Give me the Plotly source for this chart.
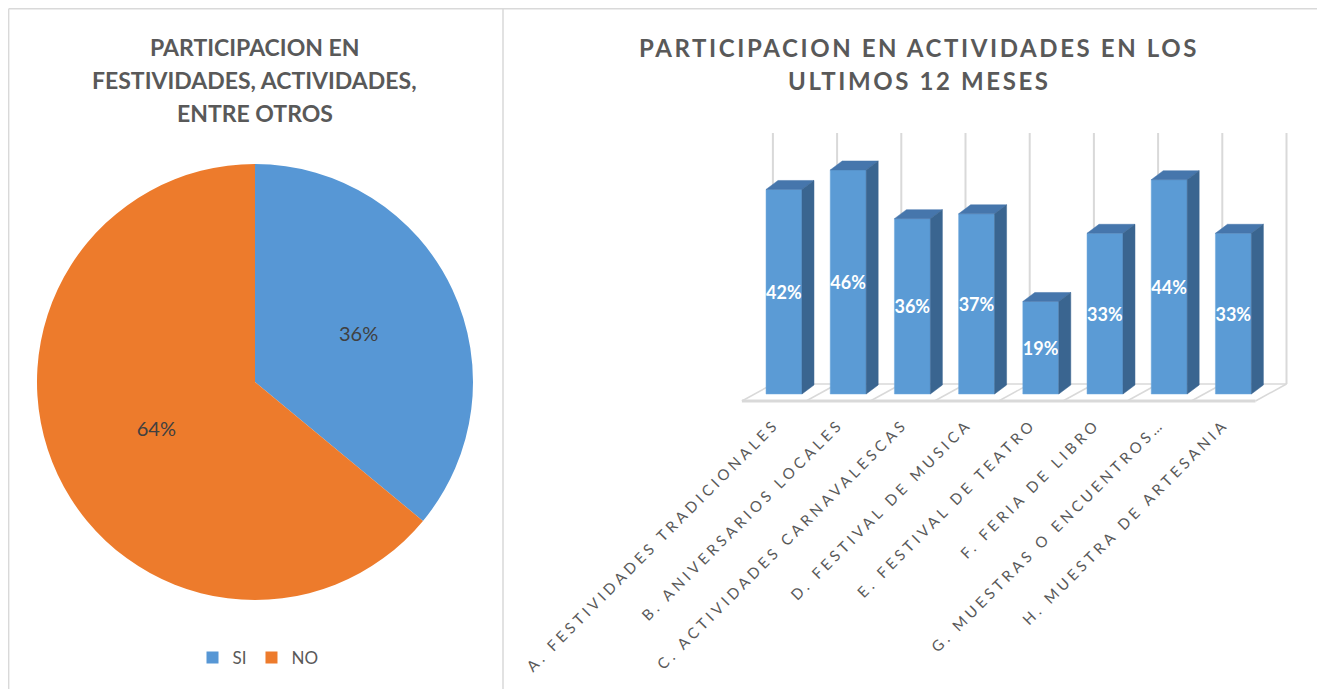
import plotly.graph_objects as go

# ---------------- data ----------------
pie_labels = ["SI", "NO"]
pie_values = [36, 64]

categories = [
    "A. FESTIVIDADES TRADICIONALES",
    "B. ANIVERSARIOS LOCALES",
    "C. ACTIVIDADES CARNAVALESCAS",
    "D. FESTIVAL DE MUSICA",
    "E. FESTIVAL DE TEATRO",
    "F. FERIA DE LIBRO",
    "G. MUESTRAS O ENCUENTROS…",
    "H. MUESTRA DE ARTESANIA",
]
bar_values = [42, 46, 36, 37, 19, 33, 44, 33]

pie_title = ["PARTICIPACION EN", "FESTIVIDADES, ACTIVIDADES,", "ENTRE OTROS"]
bar_title = ["PARTICIPACION EN ACTIVIDADES EN LOS", "ULTIMOS 12 MESES"]

# ---------------- styling / layout constants ----------------
OFF = 8                      # page body margin
W, H = 1325 - OFF, 689 - OFF
GRAY_TXT = "#595959"
BORDER = "#D9D9D9"
FONT = "Lato"


def px_x(p):
    return (p - OFF) / W


def px_y(p):
    return 1 - (p - OFF) / H


# bar subplot geometry (screen pixels)
X0_PX = 784.0        # pixel x of first category center
STEP_PX = 64.2       # pixels per category
Y0_PX = 394.0        # pixel y of value 0
PX_PER_UNIT = 4.87   # pixels per percent
x_range = [-1.5, 8.0]
y_range = [-3, 55]
xd = [px_x(X0_PX + x_range[0] * STEP_PX), px_x(X0_PX + x_range[1] * STEP_PX)]
yd = [px_y(Y0_PX - y_range[0] * PX_PER_UNIT), px_y(Y0_PX - y_range[1] * PX_PER_UNIT)]

bar_w = 0.56
dx = 12 / STEP_PX        # depth offset of bar (x units)
dy = 9 / PX_PER_UNIT     # depth offset of bar (y units)
floor_front_dx = -10 / STEP_PX
floor_back_dx = 21 / STEP_PX
floor_front_y = (Y0_PX - 401) / PX_PER_UNIT
floor_back_y = (Y0_PX - 384) / PX_PER_UNIT
grid_top_y = (Y0_PX - 133) / PX_PER_UNIT

FRONT = "#5B9BD5"
TOP = "#4676AC"
SIDE = "#3A6590"

fig = go.Figure()

# ---------------- pie ----------------
cx, cy, R = 255, 382, 218
fig.add_trace(go.Pie(
    labels=pie_labels,
    values=pie_values,
    sort=False,
    direction="clockwise",
    rotation=0,
    marker=dict(colors=["#5797D5", "#ED7B2C"], line=dict(width=0)),
    textinfo="percent",
    texttemplate="%{percent:.0%}",
    textposition="inside",
    insidetextorientation="horizontal",
    textfont=dict(family=FONT, size=20, color="#404040"),
    domain=dict(x=[px_x(cx - R), px_x(cx + R)], y=[px_y(cy + R), px_y(cy - R)]),
    showlegend=True,
    hoverinfo="label+percent",
))

# ---------------- bars ----------------
xs = list(range(len(categories)))
fig.add_trace(go.Bar(
    x=xs,
    y=bar_values,
    width=bar_w,
    marker=dict(color=FRONT, line=dict(color="#6FA8DC", width=0.5)),
    text=[f"{v}%" for v in bar_values],
    textposition="inside",
    insidetextanchor="middle",
    constraintext="none",
    textangle=0,
    textfont=dict(family=FONT, size=18, color="white", weight="bold"),
    showlegend=False,
    xaxis="x",
    yaxis="y",
    hovertemplate="%{customdata}: %{y}%<extra></extra>",
    customdata=categories,
))

shapes = []
# floor and back-wall gridlines (below bars)
bounds = [i - 0.5 for i in range(len(categories) + 1)]
shapes.append(dict(type="line", xref="x", yref="y", layer="below",
                   x0=bounds[0] + floor_front_dx, x1=bounds[-1] + floor_front_dx,
                   y0=floor_front_y, y1=floor_front_y, line=dict(color=BORDER, width=3)))
shapes.append(dict(type="line", xref="x", yref="y", layer="below",
                   x0=bounds[0] + floor_back_dx, x1=bounds[-1] + floor_back_dx,
                   y0=floor_back_y, y1=floor_back_y, line=dict(color=BORDER, width=1.5)))
for b in bounds:
    shapes.append(dict(type="line", xref="x", yref="y", layer="below",
                       x0=b + floor_front_dx, x1=b + floor_back_dx,
                       y0=floor_front_y, y1=floor_back_y, line=dict(color=BORDER, width=1.5)))
    shapes.append(dict(type="line", xref="x", yref="y", layer="below",
                       x0=b + floor_back_dx, x1=b + floor_back_dx,
                       y0=floor_back_y, y1=grid_top_y, line=dict(color=BORDER, width=2)))

# 3D faces of bars computed from the data
for x, v in zip(xs, bar_values):
    l, r = x - bar_w / 2, x + bar_w / 2
    top = f"M{l},{v} L{l+dx},{v+dy} L{r+dx},{v+dy} L{r},{v} Z"
    side = f"M{r},0 L{r},{v} L{r+dx},{v+dy} L{r+dx},{dy} Z"
    shapes.append(dict(type="path", xref="x", yref="y", path=top,
                       fillcolor=TOP, line=dict(color=TOP, width=0.5)))
    shapes.append(dict(type="path", xref="x", yref="y", path=side,
                       fillcolor=SIDE, line=dict(color=SIDE, width=0.5)))

# panel borders (at the figure edge, i.e. screen x=8 / y=8)
shapes += [
    dict(type="line", xref="paper", yref="paper", x0=0.0005, x1=1, y0=0.999, y1=0.999,
         line=dict(color=BORDER, width=1.5)),
    dict(type="line", xref="paper", yref="paper", x0=0.0005, x1=0.0005, y0=0, y1=0.999,
         line=dict(color=BORDER, width=1.5)),
    dict(type="line", xref="paper", yref="paper", x0=px_x(503), x1=px_x(503), y0=0, y1=0.999,
         line=dict(color=BORDER, width=1.5)),
]

annotations = []
for i, line in enumerate(pie_title):
    annotations.append(dict(xref="paper", yref="paper", x=px_x(255), y=px_y(47 + 33 * i),
                            xanchor="center", yanchor="middle", showarrow=False, text=line,
                            font=dict(family=FONT, size=23, color=GRAY_TXT, weight="bold")))
for i, line in enumerate(bar_title):
    annotations.append(dict(xref="paper", yref="paper", x=px_x(919), y=px_y(47 + 33 * i),
                            xanchor="center", yanchor="middle", showarrow=False,
                            text=f'<span style="letter-spacing:2.6px">{line}</span>',
                            font=dict(family=FONT, size=24, color=GRAY_TXT, weight="bold")))

fig.update_layout(
    width=W, height=H,
    margin=dict(l=0, r=0, t=0, b=0),
    paper_bgcolor="white",
    plot_bgcolor="rgba(0,0,0,0)",
    shapes=shapes,
    annotations=annotations,
    showlegend=True,
    legend=dict(orientation="h", x=px_x(258), xanchor="center", y=px_y(658), yanchor="middle",
                font=dict(family=FONT, size=17, color=GRAY_TXT), itemclick=False,
                itemdoubleclick=False),
    xaxis=dict(domain=xd, range=x_range, tickmode="array", tickvals=xs,
               ticktext=[f'<span style="letter-spacing:3.8px">{c}</span>' for c in categories],
               tickangle=-45, showgrid=False, zeroline=False, showline=False, ticks="",
               tickfont=dict(family=FONT, size=15, color=GRAY_TXT), fixedrange=True,
               automargin=False, ticklabelshift=-9, ticklabelstandoff=3),
    yaxis=dict(domain=yd, range=y_range, visible=False, fixedrange=True),
    bargap=0.44,
)

fig.write_html("out.html")
